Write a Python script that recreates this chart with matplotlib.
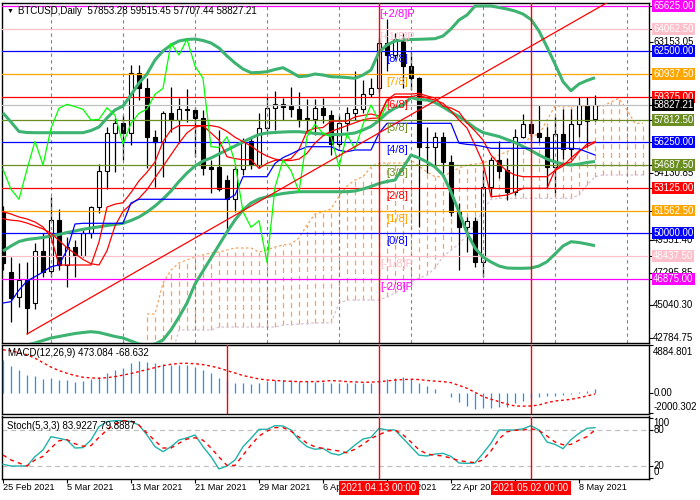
import numpy as np
import pandas as pd
import matplotlib
matplotlib.use('Agg')
import matplotlib.pyplot as plt
from matplotlib.transforms import blended_transform_factory

plt.rcParams['font.family'] = ['Liberation Sans', 'DejaVu Sans']

# daily BTCUSD bars, 25 Feb .. 10 May 2021
dates = pd.date_range('2021-02-25', '2021-05-10', freq='D')

opens = [51480, 47355, 45595, 46785, 45182, 48779, 47404, 50910, 47816, 49033,
         48456, 49996, 51784, 54259, 56872, 57559, 56872, 60997, 59966, 56638,
         56294, 58247, 57786, 58563, 58474, 57903, 54550, 54555, 53661, 52334,
         54396, 56322, 54692, 57216, 58591, 58866, 58780, 58522, 57900, 57830,
         58632, 58110, 56136, 57559, 58247, 58543, 59553, 59966, 63060, 62256,
         63335, 61500, 60654, 55950, 55900, 56638, 54878, 51481, 50408, 50862,
         48043, 53159, 55036, 54348, 52856, 56638, 57491, 56872, 56638, 54575,
         56803, 55772, 57491, 58818, 57853.28]
highs = [51900, 48387, 47933, 48043, 49308, 49996, 52512, 51646, 49762, 49535,
         50223, 51873, 54740, 57326, 57903, 58130, 61568, 61568, 60654, 57099,
         58405, 60035, 59320, 59897, 58700, 58500, 55036, 57099, 54000, 54700,
         56528, 56600, 58247, 59388, 59801, 59278, 60035, 59732, 59210, 59230,
         59320, 58500, 58100, 58701, 61176, 60537, 60654, 63404, 64710, 63748,
         63748, 62483, 60764, 57326, 56982, 56982, 55380, 52100, 51137, 51137,
         54348, 55222, 56363, 55153, 57147, 58199, 57700, 58818, 57326, 58013,
         58543, 58522, 59347, 59347, 59515.45]
lows = [47500, 43918, 44949, 43072, 44800, 47012, 47000, 47472, 46324, 47012,
        48387, 49700, 51412, 53021, 54231, 55036, 56067, 59162, 54465, 53200,
        53888, 56982, 56184, 57669, 55263, 54005, 52746, 52900, 50223, 51481,
        54000, 54400, 54500, 57000, 57099, 57786, 58000, 57300, 56872, 56755,
        57600, 55380, 55900, 57000, 57786, 58300, 59388, 59700, 61156, 62000,
        59966, 59849, 50450, 54121, 54500, 54121, 51200, 47472, 48731, 47700,
        47012, 52629, 53778, 52286, 52629, 56528, 56400, 56300, 53090, 52788,
        55084, 55084, 56638, 55900, 57707.44]
closes = [47933, 45526, 46785, 44880, 48779, 47355, 50910, 47816, 49033, 48456,
          49996, 51784, 54259, 56872, 57559, 56872, 60997, 59966, 56638, 56294,
          58247, 57786, 58563, 58474, 57903, 54465, 54400, 53021, 52334, 54396,
          56322, 54692, 57216, 58591, 58866, 58701, 58522, 57786, 57830, 58632,
          58110, 56136, 57559, 58247, 58543, 59553, 59966, 63060, 62256, 63335,
          61500, 60654, 55950, 55900, 56638, 54878, 51481, 50408, 50862, 48002,
          53159, 55036, 54300, 52856, 56638, 57491, 56872, 56638, 54575, 56803,
          55772, 57491, 58818, 57738, 58827.21]

# Bollinger bands
bb_upper = [58268, 57649, 56996, 56927, 56913, 56913, 56913, 56913, 56913, 56913,
            56913, 57064, 57305, 57924, 58474, 58749, 59505, 60331, 60949, 61912,
            62531, 62943, 63218, 63322, 63356, 63253, 63081, 62737, 62187, 61706,
            61293, 61039, 61053, 61108, 61259, 61383, 61087, 60764, 60812, 60949,
            60881, 60764, 60743, 60709, 60654, 60881, 61224, 62462, 62943, 63218,
            63287, 63322, 63335, 63356, 63377, 63562, 64044, 64662, 65006, 65625,
            65625, 65625, 65522, 65419, 65281, 65075, 64697, 63906, 62806, 61637,
            60420, 59801, 60262, 60502, 60695]
bb_middle = [48779, 49123, 49432, 49570, 49638, 49707, 49810, 49913, 50051, 50154,
             50271, 50360, 50443, 50532, 50601, 50684, 50876, 51117, 51461, 51873,
             52354, 52904, 53558, 54142, 54623, 54967, 55174, 55449, 55724, 55999,
             56274, 56549, 56789, 56893, 56927, 56961, 56982, 56982, 56927, 56858,
             56824, 56789, 56789, 56824, 56893, 57099, 57340, 57752, 58268, 58612,
             58818, 59334, 59196, 59162, 58990, 58680, 58337, 58027, 57649, 57236,
             56927, 56789, 56652, 56446, 56239, 55964, 55689, 55380, 55105, 54899,
             54761, 54692, 54761, 54864, 54933]
bb_lower = [41834, 41972, 42109, 42315, 42453, 42625, 42797, 42900, 43003, 43106,
            43175, 43230, 43175, 43037, 42900, 42797, 42590, 42384, 42315, 42384,
            42659, 43347, 44241, 45203, 46510, 47404, 48298, 49191, 50085, 50910,
            51598, 52079, 52354, 52513, 52629, 52733, 52801, 52856, 52856, 52856,
            52856, 52856, 52856, 52856, 52904, 53042, 53214, 53420, 53558, 53661,
            54486, 55380, 55174, 54899, 54555, 54005, 52836, 51461, 50017, 48985,
            48366, 48023, 47747, 47610, 47589, 47589, 47610, 47747, 48043, 48573,
            49123, 49418, 49363, 49260, 49143]

# Ichimoku
tenkan = [51481, 51323, 51117, 50980, 50773, 50430, 49740, 47816, 47816, 47816,
          47816, 47816, 49400, 51800, 52000, 52100, 52800, 53600, 54200, 54900,
          56300, 57100, 57400, 57400, 57400, 57400, 56900, 56400, 55263, 55129,
          55060, 55060, 54461, 54806, 55012, 55012, 55129, 55758, 57018, 57218,
          57268, 57708, 57708, 57708, 58000, 58100, 58200, 58061, 59161, 59388,
          59388, 59388, 59505, 59300, 59161, 58935, 58405, 57786, 57236, 56067,
          54830, 52512, 52561, 52630, 52836, 53090, 53090, 53090, 53090, 54348,
          54761, 54898, 55586, 56136, 56294]
red_ma = [51000, 50900, 50850, 50700, 50500, 50300, 50000, 49500, 49000, 48600,
          48200, 47900, 47816, 48800, 50500, 51500, 52000, 52400, 53000, 53800,
          54600, 55400, 56200, 56900, 57300, 57400, 57400, 57300, 57000, 56600,
          56300, 56000, 55600, 55300, 55100, 55000, 55000, 55100, 55500, 56200,
          56700, 57000, 57200, 57400, 57600, 57800, 57900, 57924, 59161, 59574,
          59574, 59574, 59620, 59436, 59299, 58749, 58611, 58336, 57580, 57030,
          56411, 55380, 54761, 54280, 54005, 53888, 53888, 53888, 53888, 54314,
          54623, 55174, 55655, 55965, 56240]
kijun = [45203, 45292, 46097, 46716, 47012, 47335, 47700, 47816, 48848, 50636,
         50683, 50683, 50683, 50683, 50683, 50683, 52080, 52334, 52334, 52334,
         52334, 52334, 52334, 52334, 52334, 52334, 52334, 52334, 52334, 52630,
         53888, 53888, 53888, 53888, 54800, 55200, 55450, 55724, 55950, 55950,
         55950, 55950, 55700, 55607, 55724, 55724, 55724, 56872, 57559, 57559,
         57559, 57559, 57559, 57559, 57559, 57559, 57559, 56193, 56110, 56067,
         55965, 55840, 55840, 55840, 55840, 55840, 55840, 55840, 55840, 55840,
         55840, 55840, 55800, 55586, 55380]
chikou_shift = 26
cloud_start = 18
senkou_a = [44447, 44447, 46579, 47472, 47954, 48159, 48366, 48504, 48642, 48710,
            48848, 48986, 48986, 48986, 48710, 48848, 49053, 49191, 49260, 49673,
            50566, 51323, 51460, 51667, 52561, 53249, 53661, 53888, 54555, 54809,
            54830, 54830, 54830, 55036, 54623, 54211, 53888, 53888, 54211, 54486,
            54692, 54761, 54830, 55036, 55380, 55607, 55861, 55950, 56755, 56755,
            57786, 58749, 58749, 58749, 58749, 58749, 58749, 58749, 59024, 59278,
            58474, 57559, 57559]
senkou_b = [41500, 41500, 41500, 41500, 43346, 43346, 43346, 43346, 43346, 43552,
            43552, 43552, 43552, 43552, 43552, 43552, 43552, 43690, 43724, 43759,
            43793, 43828, 43841, 43841, 45182, 45409, 45409, 45409, 45409, 45409,
            45616, 45891, 46235, 46647, 46901, 47129, 47610, 48387, 48848, 49260,
            49879, 50566, 51598, 52334, 52403, 52403, 52403, 52403, 52403, 52403,
            52403, 52403, 52403, 52403, 52630, 53317, 53888, 54005, 54005, 54005,
            54005, 54005, 54005]

# Murrey math levels
mm_levels = [65625.0, 64062.5, 62500.0, 60937.5, 59375.0, 57812.5, 56250.0,
             54687.5, 53125.0, 51562.5, 50000.0, 48437.5, 46875.0]
mm_names = ['[+2/8]P', '[+1/8]P', '[8/8]', '[7/8]', '[6/8]', '[5/8]', '[4/8]',
            '[3/8]', '[2/8]', '[1/8]', '[0/8]', '[-1/8]P', '[-2/8]P']
mm_colors = ['#FF00FF', '#FFC0CB', '#0000FF', '#FFA500', '#FF0000', '#6B8E23', '#0000FF',
             '#6B8E23', '#FF0000', '#FFA500', '#0000FF', '#FFC0CB', '#FF00FF']
price_ticks = [63153.05, 54130.85, 49551.40, 47295.85, 45040.30, 42784.75]
last_price = 58827.21

# trend line anchors (bar, price)
trend_x = [3, 76]
trend_y = [43072, 66009]

# MACD(12,26,9)
macd_hist = [3375, 2801, 2363, 1856, 1789, 1451, 1586, 1350, 1350, 1181,
             1283, 1451, 1620, 2093, 2363, 2599, 3105, 3274, 3206, 3038,
             2936, 2869, 2869, 2869, 2700, 2363, 2025, 1586, 1300, 1013,
             1080, 911, 1013, 1283, 1350, 1350, 1350, 1249, 1283, 1181,
             1181, 1013, 1013, 1080, 1080, 1080, 1080, 1300, 1451, 1586,
             1688, 1418, 1080, 776, 439, 68, -405, -844, -1249, -1620,
             -1519, -1451, -1350, -1350, -1013, -743, -500, -338, -270, -270,
             -169, -68, 101, 236, 473.084]
macd_signal = [4400, 4300, 4100, 3900, 3550, 3100, 2650, 2300, 2025, 1800,
               1620, 1560, 1519, 1580, 1680, 1840, 2000, 2200, 2400, 2600,
               2800, 2930, 3020, 3038, 2990, 2900, 2750, 2550, 2300, 2050,
               1800, 1620, 1450, 1350, 1300, 1249, 1210, 1181, 1181, 1181,
               1220, 1283, 1250, 1181, 1150, 1114, 1130, 1170, 1250, 1340,
               1390, 1418, 1390, 1300, 1230, 1180, 1080, 800, 506, 100,
               -338, -600, -844, -1100, -1283, -1300, -1283, -1181, -950, -776,
               -700, -608, -450, -270, -68.632]
macd_max, macd_min = 4884.801, -2000.302

# Stochastic(5,3,3)
stoch_k = [22.8, 20, 20, 20, 35.6, 46.7, 68.9, 66.1, 63.3, 50,
           50.6, 63.3, 85.6, 93.9, 95.6, 95.6, 93.9, 88.3, 71.7, 52.2,
           43.9, 52.2, 63.3, 67, 71.7, 52.2, 35.6, 15, 20, 30,
           52.2, 66.1, 81.1, 81.1, 87.2, 86.7, 80, 63.3, 52.2, 47.8,
           49.4, 41.1, 38.3, 43.9, 55, 65, 67.8, 82.8, 80, 80,
           66, 52, 38, 36.7, 40, 41.1, 36, 25, 24.4, 25,
           41.1, 58, 80, 80, 80, 82, 87.2, 80, 60, 56,
           48.9, 64, 74.4, 82.8, 83.9227]
stoch_d = [38.3, 30, 25, 20, 30, 36, 50, 62, 64, 57,
           53, 54, 68, 80, 90, 95.6, 95, 88, 75, 62,
           50, 50, 58, 65, 67, 63, 50, 35, 21, 21,
           38, 55, 70, 78, 84, 84, 78, 68, 58, 52,
           49.4, 47, 45, 42, 48, 56, 66, 72, 78, 80,
           72, 60, 47, 40, 38, 36.7, 33, 29, 27, 25.6,
           30, 45, 65, 77, 79.5, 80, 82, 79, 70, 60,
           55.5, 56, 63, 69, 79.8887]

cursor_bars = [47, 66]       # 2021.04.13 and 2021.05.02
macd_vline_bar = 28
grid_bars = list(range(6, 81, 9))
label_bars = list(range(0, 75, 8))

W, H = 700, 500
FS = 7


def px_box(left, top, right, bottom):
    return [left / W, 1 - bottom / H, (right - left) / W, (bottom - top) / H]


fig = plt.figure(figsize=(W / 100, H / 100), dpi=100)
ax = fig.add_axes(px_box(2, 2.5, 649, 342.5))
ax_m = fig.add_axes(px_box(2, 345, 649, 414))
ax_s = fig.add_axes(px_box(2, 416.5, 649, 479))

idx = np.arange(len(closes))
o = np.array(opens); h = np.array(highs); l = np.array(lows); c = np.array(closes)

for a in (ax, ax_m, ax_s):
    a.set_xlim(-0.125, 80.75)
    for s in a.spines.values():
        s.set_color('black')
        s.set_linewidth(1)
    a.set_xticks([])
    a.yaxis.tick_right()
    a.tick_params(axis='y', length=3, width=0.8, labelright=False, labelleft=False)

ax.set_ylim(42487, 65866)
ax_m.set_ylim(-2093, 4885)
ax_s.set_ylim(-1.67, 102.5)

# ichimoku cloud
cx = np.arange(cloud_start, cloud_start + len(senkou_a))
sa = np.array(senkou_a); sb = np.array(senkou_b)
ax.vlines(cx, np.minimum(sa, sb), np.maximum(sa, sb),
          colors=np.where(sa >= sb, '#F4A460', '#D8BFD8'),
          linestyles=(0, (4, 3)), lw=0.9, zorder=1)
ax.plot(cx, sa, color='#F4A460', ls=(0, (2, 2)), lw=0.9, zorder=1)
ax.plot(cx, sb, color='#D8BFD8', ls=(0, (2, 2)), lw=0.9, zorder=1)

# candles
ax.vlines(idx, l, h, color='black', lw=0.9, zorder=2)
lo = np.minimum(o, c); hi = np.maximum(o, c)
ax.bar(idx, np.maximum(hi - lo, 40), bottom=lo, width=0.62,
       color=np.where(c >= o, 'white', 'black'), edgecolor='black', linewidth=0.8, zorder=2)

# grid
for g in grid_bars:
    ax.axvline(g, color='#6F8799', ls=(0, (3, 3)), lw=0.8, zorder=2.5)

# murrey lines + labels
for lv, name, col in zip(mm_levels, mm_names, mm_colors):
    ax.axhline(lv, color=col, lw=0.9, zorder=3)
    ax.annotate(name, xy=(49.25, lv), xytext=(0, -8), textcoords='offset pixels',
                ha='center', va='center', color=col, fontsize=8, zorder=7)
ax.axhline(last_price, color='#C0C0C0', lw=0.9, zorder=3)

# bollinger
for band in (bb_upper, bb_middle, bb_lower):
    ax.plot(idx, band, color='#3CB371', lw=2.2, zorder=4, solid_capstyle='butt')

# ichimoku lines
ax.plot(idx, red_ma, color='red', lw=0.9, zorder=5)
ax.plot(idx, tenkan, color='red', lw=0.9, zorder=5)
ax.plot(idx, kijun, color='blue', lw=0.9, zorder=5)
ax.plot(idx[:-chikou_shift], c[chikou_shift:], color='#00FF00', lw=0.9, zorder=5)

# trend line
ax.plot(trend_x, trend_y, color='red', lw=0.9, zorder=5)

for b in cursor_bars:
    for a in (ax, ax_m, ax_s):
        a.axvline(b, color='red', lw=1, zorder=6)

# right price scale
tr = ax.get_yaxis_transform()
ax.set_yticks(price_ticks + mm_levels + [last_price])
for v in price_ticks:
    ax.text(1.0065, v, f'{v:.2f}', transform=tr, ha='left', va='center',
            fontsize=FS, color='black', clip_on=False, zorder=8)
for lv, col in zip(mm_levels, mm_colors):
    ax.text(1.0065, lv, f'{lv:.2f}', transform=tr, ha='left', va='center',
            fontsize=FS, color='white', clip_on=False, zorder=9,
            bbox=dict(boxstyle='square,pad=0.1', fc=col, ec='none'))
ax.text(1.0065, last_price, f'{last_price:.2f}', transform=tr, ha='left', va='center',
        fontsize=FS, color='white', clip_on=False, zorder=9,
        bbox=dict(boxstyle='square,pad=0.1', fc='black', ec='none'))

fig.text(7 / W, 1 - 11 / H, '\u25bc', fontsize=5, va='center', ha='left')
fig.text(18 / W, 1 - 11 / H,
         f'BTCUSD,Daily  {opens[-1]:.2f} {highs[-1]:.2f} {lows[-1]:.2f} {closes[-1]:.2f}',
         fontsize=FS, va='center', ha='left')

# MACD panel
ax_m.vlines(idx, 0, macd_hist, color='#1E90FF', lw=0.9, zorder=3)
ax_m.plot(idx, macd_signal, color='red', ls=(0, (2, 2)), lw=1, zorder=4)
ax_m.axvline(macd_vline_bar, color='red', lw=1, zorder=5)
ax_m.set_yticks([macd_min, 0, macd_max])
trm = ax_m.get_yaxis_transform()
ax_m.annotate(f'{macd_max:.3f}', xy=(1.0065, macd_max), xycoords=trm, xytext=(0, -7),
              textcoords='offset pixels', ha='left', va='center', fontsize=FS, annotation_clip=False)
ax_m.text(1.0065, 0, '0.00', transform=trm, ha='left', va='center', fontsize=FS, clip_on=False)
ax_m.annotate(f'{macd_min:.3f}', xy=(1.0065, macd_min), xycoords=trm, xytext=(0, 6),
              textcoords='offset pixels', ha='left', va='center', fontsize=FS, annotation_clip=False)
fig.text(8 / W, 1 - 353 / H,
         f'MACD(12,26,9) {macd_hist[-1]:.3f} {macd_signal[-1]:.3f}',
         fontsize=FS, va='center', ha='left')

# Stochastic panel
for lvl in (20, 80):
    ax_s.axhline(lvl, color='#C0C0C0', ls=(0, (4, 3)), lw=0.9, zorder=2)
ax_s.plot(idx, stoch_k, color='#20B2AA', lw=1, zorder=4)
ax_s.plot(idx, stoch_d, color='red', ls=(0, (3, 3)), lw=1, zorder=4)
ax_s.set_yticks([0, 20, 80, 100])
trs = ax_s.get_yaxis_transform()
for v, dy in ((100, -5), (80, 0), (20, 0), (0, 6)):
    ax_s.annotate(str(v), xy=(1.0065, v), xycoords=trs, xytext=(0, dy),
                  textcoords='offset pixels', ha='left', va='center', fontsize=FS,
                  annotation_clip=False)
fig.text(7 / W, 1 - 426 / H,
         f'Stoch(5,3,3) {stoch_k[-1]:.4f} {stoch_d[-1]:.4f}',
         fontsize=FS, va='center', ha='left')

# date axis
trd = blended_transform_factory(ax_s.transData, fig.transFigure)
ax_s.set_xticks(label_bars)
ax_s.tick_params(axis='x', length=3, width=0.8, labelbottom=False)
for b in label_bars:
    d = dates[b]
    ax_s.text(b, 1 - 488 / H, f'{d.day} {d:%b %Y}', transform=trd,
              ha='left', va='center', fontsize=6.6, clip_on=False)
for b in cursor_bars:
    ax_s.text(b, 1 - 488 / H, f'{dates[b]:%Y.%m.%d} 00:00', transform=trd,
              ha='center', va='center', fontsize=FS, color='white', clip_on=False,
              zorder=10, bbox=dict(boxstyle='square,pad=0.2', fc='red', ec='none'))

fig.savefig('out.png', dpi=100, facecolor='white')
